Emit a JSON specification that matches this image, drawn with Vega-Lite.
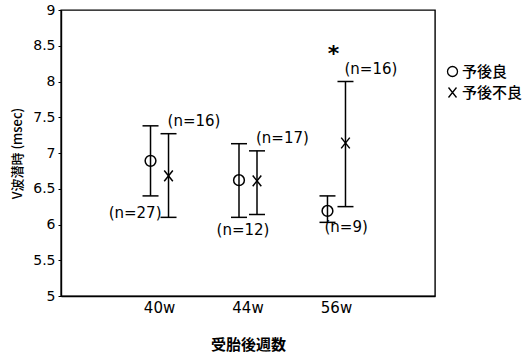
{
  "$schema": "https://vega.github.io/schema/vega-lite/v6.json",
  "width": 374,
  "height": 286,
  "autosize": "none",
  "padding": {"left": 61, "top": 10, "right": 94, "bottom": 60},
  "background": "white",
  "config": {
    "font": "DejaVu Sans",
    "view": {"stroke": "black", "strokeWidth": 1.4},
    "axis": {"grid": false, "domainColor": "black", "domainWidth": 1.4, "tickColor": "black", "labelColor": "black", "titleColor": "black", "labelFont": "DejaVu Sans", "titleFont": "Noto Sans CJK JP"},
    "axisY": {"labelFontSize": 14, "tickSize": 3, "labelPadding": 3, "titleFontSize": 13, "titleFontWeight": 500, "titlePadding": 8, "labelOverlap": false, "tickCount": 9},
    "axisX": {"labelAngle": 0, "ticks": false, "labelFontSize": 15, "labelPadding": 4, "titleFontSize": 15, "titleFontWeight": "bold", "titlePadding": 22}
  },
  "data": {
    "values": [
      {"week": "40w", "group": "予後良", "mean": 6.89, "lo": 6.40, "hi": 7.38, "n": "(n=27)"},
      {"week": "40w", "group": "予後不良", "mean": 6.68, "lo": 6.10, "hi": 7.27, "n": "(n=16)"},
      {"week": "44w", "group": "予後良", "mean": 6.62, "lo": 6.10, "hi": 7.13, "n": "(n=12)"},
      {"week": "44w", "group": "予後不良", "mean": 6.61, "lo": 6.14, "hi": 7.03, "n": "(n=17)"},
      {"week": "56w", "group": "予後良", "mean": 6.19, "lo": 6.03, "hi": 6.40, "n": "(n=9)"},
      {"week": "56w", "group": "予後不良", "mean": 7.14, "lo": 6.25, "hi": 8.00, "n": "(n=16)", "sig": "*"}
    ]
  },
  "encoding": {
    "x": {
      "field": "week", "type": "nominal",
      "scale": {"paddingInner": 0.593, "paddingOuter": 0.91},
      "axis": {"title": "受胎後週数"}
    },
    "xOffset": {"field": "group", "type": "nominal", "scale": {"domain": ["予後良", "予後不良"]}}
  },
  "layer": [
    {
      "mark": {"type": "rule", "stroke": "black", "strokeWidth": 1.5},
      "encoding": {
        "y": {"field": "lo", "type": "quantitative", "scale": {"domain": [5, 9], "zero": false, "nice": false},
          "axis": {"title": "V波潜時 (msec)", "values": [5, 5.5, 6, 6.5, 7, 7.5, 8, 8.5, 9], "labelExpr": "'' + datum.value"}},
        "y2": {"field": "hi"}
      }
    },
    {
      "mark": {"type": "tick", "orient": "horizontal", "size": 16, "thickness": 1.5, "color": "black", "opacity": 1},
      "encoding": {"y": {"field": "lo", "type": "quantitative", "axis": {"title": "V波潜時 (msec)", "values": [5, 5.5, 6, 6.5, 7, 7.5, 8, 8.5, 9], "labelExpr": "'' + datum.value"}}}
    },
    {
      "mark": {"type": "tick", "orient": "horizontal", "size": 16, "thickness": 1.5, "color": "black", "opacity": 1},
      "encoding": {"y": {"field": "hi", "type": "quantitative", "axis": {"title": "V波潜時 (msec)", "values": [5, 5.5, 6, 6.5, 7, 7.5, 8, 8.5, 9], "labelExpr": "'' + datum.value"}}}
    },
    {
      "mark": {"type": "point", "filled": false, "stroke": "black", "strokeWidth": 1.5, "size": 115, "opacity": 1},
      "encoding": {
        "y": {"field": "mean", "type": "quantitative", "axis": {"title": "V波潜時 (msec)", "values": [5, 5.5, 6, 6.5, 7, 7.5, 8, 8.5, 9], "labelExpr": "'' + datum.value"}},
        "shape": {
          "field": "group", "type": "nominal",
          "scale": {"domain": ["予後良", "予後不良"], "range": ["circle", "M-0.8,-1L0.8,1M-0.8,1L0.8,-1"]},
          "legend": {"title": null, "orient": "none", "legendX": 384, "legendY": 54, "padding": 0, "labelFont": "Noto Sans CJK JP", "labelFontSize": 15, "labelFontWeight": 500, "labelColor": "black", "labelOffset": 2, "rowPadding": 4, "symbolStrokeColor": "black", "symbolStrokeWidth": 1.3, "symbolSize": 100}
        }
      }
    },
    {
      "transform": [{"filter": "datum.group == '予後不良'"}],
      "mark": {"type": "text", "align": "left", "baseline": "middle", "dx": -1, "dy": -13, "fontSize": 15, "color": "black"},
      "encoding": {"y": {"field": "hi", "type": "quantitative", "axis": {"title": "V波潜時 (msec)", "values": [5, 5.5, 6, 6.5, 7, 7.5, 8, 8.5, 9], "labelExpr": "'' + datum.value"}}, "text": {"field": "n"}}
    },
    {
      "transform": [{"filter": "datum.group == '予後良' && datum.week == '40w'"}],
      "mark": {"type": "text", "align": "right", "baseline": "middle", "dx": 11, "dy": 17, "fontSize": 15, "color": "black"},
      "encoding": {"y": {"field": "lo", "type": "quantitative", "axis": {"title": "V波潜時 (msec)", "values": [5, 5.5, 6, 6.5, 7, 7.5, 8, 8.5, 9], "labelExpr": "'' + datum.value"}}, "text": {"field": "n"}}
    },
    {
      "transform": [{"filter": "datum.group == '予後良' && datum.week == '44w'"}],
      "mark": {"type": "text", "align": "center", "baseline": "middle", "dx": 4, "dy": 13, "fontSize": 15, "color": "black"},
      "encoding": {"y": {"field": "lo", "type": "quantitative", "axis": {"title": "V波潜時 (msec)", "values": [5, 5.5, 6, 6.5, 7, 7.5, 8, 8.5, 9], "labelExpr": "'' + datum.value"}}, "text": {"field": "n"}}
    },
    {
      "transform": [{"filter": "datum.group == '予後良' && datum.week == '56w'"}],
      "mark": {"type": "text", "align": "left", "baseline": "middle", "dx": -3, "dy": 5, "fontSize": 15, "color": "black"},
      "encoding": {"y": {"field": "lo", "type": "quantitative", "axis": {"title": "V波潜時 (msec)", "values": [5, 5.5, 6, 6.5, 7, 7.5, 8, 8.5, 9], "labelExpr": "'' + datum.value"}}, "text": {"field": "n"}}
    },
    {
      "transform": [{"filter": "isValid(datum.sig)"}],
      "mark": {"type": "text", "align": "center", "baseline": "alphabetic", "dx": -12, "dy": -21, "fontSize": 22, "fontWeight": "bold", "color": "black"},
      "encoding": {"y": {"field": "hi", "type": "quantitative", "axis": {"title": "V波潜時 (msec)", "values": [5, 5.5, 6, 6.5, 7, 7.5, 8, 8.5, 9], "labelExpr": "'' + datum.value"}}, "text": {"field": "sig"}}
    }
  ]
}
